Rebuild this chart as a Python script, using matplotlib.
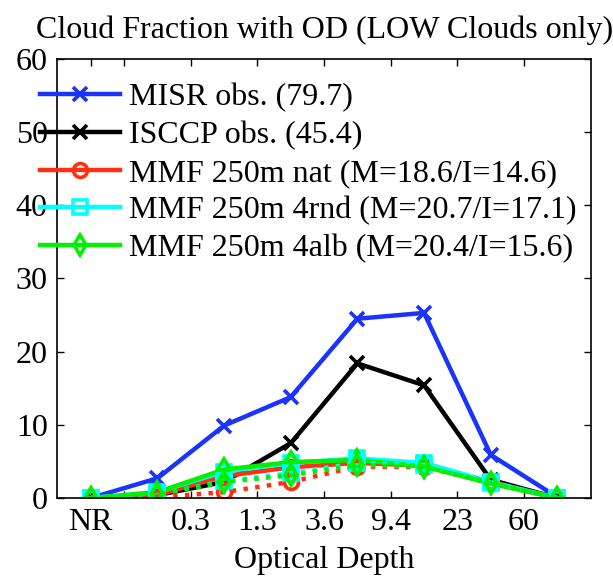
import matplotlib
matplotlib.use("Agg")
import matplotlib.pyplot as plt

# bin index: NR, then the 7 optical depth bins
x_pos = [0, 1, 2, 3, 4, 5, 6, 7]
tick_pos = [0, 0.5, 1.5, 2.5, 3.5, 4.5, 5.5, 6.5]
tick_labels = ["NR", "", "0.3", "1.3", "3.6", "9.4", "23", "60"]

misr = [0, 2.7, 9.9, 13.8, 24.5, 25.3, 5.9, 0.1]
isccp = [0, 0.4, 2.2, 7.5, 18.4, 15.4, 2.5, 0]
# MMF runs: solid = MISR simulator, dotted = ISCCP simulator
nat_m = [0, 0.4, 3.0, 4.2, 4.8, 4.4, 2.0, 0]
rnd_m = [0, 0.8, 3.6, 4.8, 5.4, 4.8, 2.2, 0]
alb_m = [0, 0.8, 3.9, 4.9, 5.2, 4.3, 2.0, 0]
nat_i = [0, 0.1, 0.8, 2.2, 4.3, 4.2, 2.2, 0]
rnd_i = [0, 0.5, 2.3, 3.4, 4.8, 4.5, 2.1, 0]
alb_i = [0, 0.5, 2.2, 3.1, 4.5, 4.3, 2.0, 0]

labels = ["MISR obs. (79.7)", "ISCCP obs. (45.4)",
          "MMF 250m nat (M=18.6/I=14.6)", "MMF 250m 4rnd (M=20.7/I=17.1)",
          "MMF 250m 4alb (M=20.4/I=15.6)"]

BLUE, BLACK, RED, CYAN, GREEN = "#1a33ff", "black", "#ff3010", "#00ffff", "#00f000"

plt.rcParams["font.family"] = ["Liberation Serif", "DejaVu Serif"]
plt.rcParams["font.size"] = 23

fig = plt.figure(figsize=(6.13, 5.76), dpi=100)
ax = fig.add_axes([0.0938, 0.1354, 0.8698, 0.7622])

lw, ms, mew = 3.2, 10, 2.6
ax.plot(x_pos, misr, "-x", c=BLUE, lw=lw, ms=ms, mew=mew, label=labels[0])
ax.plot(x_pos, isccp, "-x", c=BLACK, lw=lw, ms=ms, mew=mew, label=labels[1])
ax.plot(x_pos, nat_m, "-o", c=RED, lw=lw, ms=ms, mew=mew, mfc="none", label=labels[2])
ax.plot(x_pos, rnd_m, "-s", c=CYAN, lw=lw, ms=ms, mew=mew, mfc="none", label=labels[3])
ax.plot(x_pos, alb_m, "-d", c=GREEN, lw=lw, ms=ms, mew=mew, mfc="none", label=labels[4])
ax.plot(x_pos, nat_i, ":o", c=RED, lw=lw, ms=ms, mew=mew, mfc="none")
ax.plot(x_pos, rnd_i, ":s", c=CYAN, lw=lw, ms=ms, mew=mew, mfc="none")
ax.plot(x_pos, alb_i, ":d", c=GREEN, lw=lw, ms=ms, mew=mew, mfc="none")

ax.set_xlim(-0.5, 7.5)
ax.set_ylim(0, 60)
ax.set_xticks(tick_pos)
ax.set_xticklabels(tick_labels)
ax.set_yticks(range(0, 61, 10))
ax.tick_params(direction="in", top=True, right=True, length=5, width=1, pad=7)
for s in ax.spines.values():
    s.set_linewidth(1.2)

ax.set_title("Cloud Fraction with OD (LOW Clouds only)", fontsize=23, pad=15)
ax.set_xlabel("Optical Depth", fontsize=23, labelpad=7)

ax.legend(loc="upper left", bbox_to_anchor=(-0.033, 0.945), frameon=False,
          fontsize=23, numpoints=1, handlelength=2.5, handletextpad=0.3,
          labelspacing=0.26, borderpad=0, borderaxespad=0)

fig.savefig("out.png", dpi=100)
